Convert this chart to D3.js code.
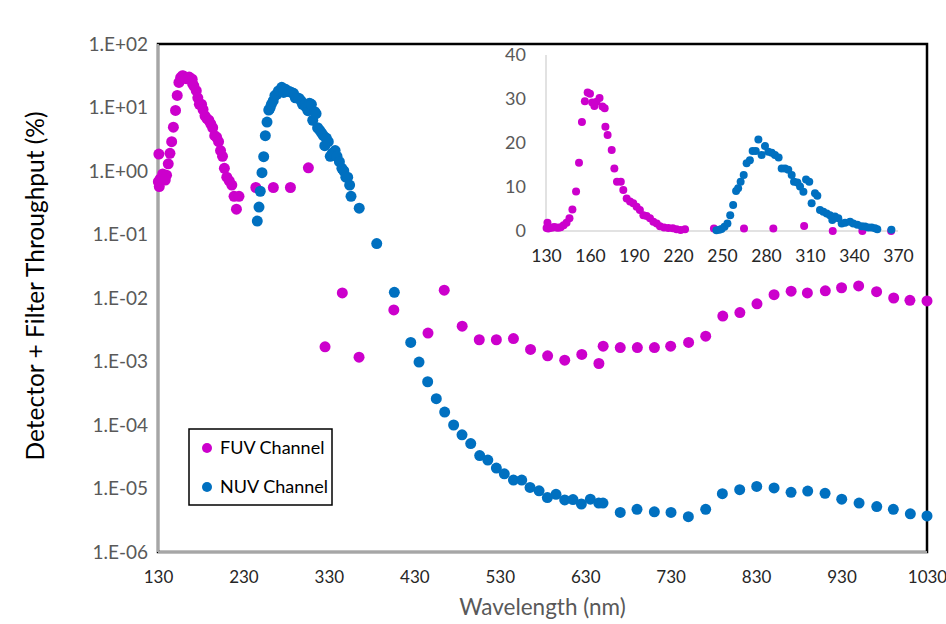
<!DOCTYPE html>
<html>
<head>
<meta charset="utf-8">
<script src="https://cdn.jsdelivr.net/npm/d3@7"></script>
<style>
  body { margin: 0; background: #fff; }
  text { font-family: Lato, "Liberation Sans", sans-serif; }
</style>
</head>
<body>
<div id="chart"></div>
<script>
// FUV channel: wavelength (nm), throughput (%)
var fuvWave = [130.4, 131, 131.5, 132.5, 134, 135.5, 137, 138.5, 140, 142, 144, 146, 148, 150.5, 152.5, 154.5,
  156.5, 158.4, 160, 161.5, 163, 164.5, 166.5, 168.5, 170, 170.5, 172, 174.8, 176.6, 178.4, 181, 182.7, 185,
  187.3, 189.5, 191.8, 194, 196.4, 198.6, 200.9, 203.2, 205.5, 207.7, 210.5, 213.4, 216.4, 219, 221.8, 224.8,
  244.5, 265, 285, 306, 325.5, 345.7, 365.3, 406, 446, 465, 486, 506, 526, 546, 566, 586, 606, 626, 646, 651,
  671, 691, 711, 730, 751, 771, 791, 811, 831, 851, 871, 890, 911, 930, 950, 971, 991, 1010, 1030];
var fuvValue = [0.68, 1.85, 0.57, 0.75, 0.72, 0.9, 0.8, 0.72, 0.86, 1.3, 1.9, 2.9, 4.9, 9.0, 15.5, 24.8,
  29.5, 31.5, 31.2, 29.2, 28.4, 29.4, 30.2, 28.3, 27.9, 23.7, 21.8, 18.4, 14.2, 11.2, 11.2, 9.3, 7.4,
  6.7, 6.3, 5.5, 4.8, 3.6, 3.4, 2.9, 2.1, 1.7, 1.1, 0.8, 0.7, 0.6, 0.4, 0.25, 0.4,
  0.55, 0.55, 0.55, 1.12, 0.0017, 0.012, 0.00117, 0.0065, 0.0028, 0.0133, 0.0036, 0.0022, 0.0022, 0.0023,
  0.00155, 0.00123, 0.00105, 0.00129, 0.00093, 0.00174, 0.00166, 0.00166, 0.00166, 0.00174, 0.002, 0.0025,
  0.0052, 0.0059, 0.0081, 0.0113, 0.0128, 0.012, 0.013, 0.0145, 0.0155, 0.0126, 0.0100, 0.0092, 0.0090];

// NUV channel: wavelength (nm), throughput (%)
var nuvWave = [246.2, 248.2, 249.7, 251.7, 253.7, 255.6, 257.6, 259.6, 261, 262.7, 264.8, 266.8, 269, 270.9,
  273, 274.8, 277, 279.3, 281.6, 283.9, 286.1, 288.6, 290.7, 293, 295.2, 297.5, 299.1, 301.4, 303.2, 305.5,
  307.3, 309.5, 311.1, 313.4, 315, 316.8, 319.1, 321.4, 323.6, 325.2, 327, 329.3, 331.6, 333.9, 337.3, 339.5,
  342.3, 345.2, 347.5, 349.8, 352, 354.3, 355.9, 365.5, 386, 406.6, 425.8, 435.5, 445.6, 455.7, 465.5, 476,
  485.8, 496, 506.5, 516, 526, 535.3, 546, 555.7, 565.4, 576, 585.7, 595.8, 606, 615.7, 625.5, 636, 645.8,
  650.8, 671, 690.6, 710.9, 730.4, 750.7, 771, 790.5, 810.8, 830.7, 851, 870.9, 890.4, 910.7, 930.2, 950.5,
  971.2, 990.6, 1010.5, 1030];
var nuvValue = [0.163, 0.27, 0.48, 0.94, 1.68, 3.6, 5.9, 9.1, 9.7, 11.2, 12.7, 15.4, 16.1, 18.2,
  18.2, 20.8, 17.3, 19.3, 18.0, 17.8, 17.3, 16.7, 14.2, 14.2, 13.9, 12.7, 11.2, 11.0, 10.1, 8.9,
  11.7, 11.2, 6.3, 8.6, 8.0, 4.8, 4.4, 4.0, 3.6, 2.5, 3.3, 2.9, 1.7, 1.9, 2.1, 1.7,
  1.4, 1.1, 1.0, 0.8, 0.8, 0.6, 0.4, 0.26, 0.072, 0.0123, 0.0020, 0.00098, 0.00048, 0.00026, 0.00016, 0.0001,
  7.0e-5, 5.1e-5, 3.3e-5, 2.8e-5, 2.1e-5, 1.7e-5, 1.36e-5, 1.36e-5, 1.04e-5, 9.2e-6, 7.2e-6, 8.1e-6,
  6.6e-6, 6.7e-6, 5.7e-6, 6.8e-6, 5.9e-6, 5.9e-6, 4.2e-6, 4.7e-6, 4.3e-6, 4.2e-6, 3.6e-6, 4.7e-6,
  8.3e-6, 9.6e-6, 1.08e-5, 1.02e-5, 8.7e-6, 9.1e-6, 8.4e-6, 6.8e-6, 5.9e-6, 5.2e-6, 4.7e-6, 4.0e-6, 3.7e-6];

var xTicks = [130, 230, 330, 430, 530, 630, 730, 830, 930, 1030];
var yTicks = [1e-6, 1e-5, 1e-4, 1e-3, 1e-2, 1e-1, 1, 10, 100];
var insetXTicks = [130, 160, 190, 220, 250, 280, 310, 340, 370];
var insetYTicks = [0, 10, 20, 30, 40];

var fuvColor = "#cc00cc";
var nuvColor = "#0070c0";

var fuv = fuvWave.map((w, i) => ({ x: w, y: fuvValue[i] }));
var nuv = nuvWave.map((w, i) => ({ x: w, y: nuvValue[i] }));

var W = 946, H = 624;
var pLeft = 158, pRight = 927, pTop = 44, pBottom = 552;
var font = "Lato, 'Liberation Sans', sans-serif";

var svg = d3.select("#chart").append("svg")
  .attr("width", W)
  .attr("height", H);

var x = d3.scaleLinear().domain([130, 1030]).range([pLeft, pRight]);
var y = d3.scaleLog().domain([1e-6, 100]).range([pBottom, pTop]);

// plot area border
svg.append("rect")
  .attr("x", pLeft).attr("y", pTop)
  .attr("width", pRight - pLeft).attr("height", pBottom - pTop)
  .attr("fill", "none")
  .attr("stroke", "#000")
  .attr("stroke-width", 2.5);

// gray axis lines on left and bottom
svg.append("line")
  .attr("x1", pLeft).attr("x2", pLeft).attr("y1", pTop).attr("y2", pBottom)
  .attr("stroke", "#a6a6a6").attr("stroke-width", 2);
svg.append("line")
  .attr("x1", pLeft).attr("x2", pRight).attr("y1", pBottom).attr("y2", pBottom)
  .attr("stroke", "#a6a6a6").attr("stroke-width", 2);

var fmtExp = d => {
  var e = Math.round(Math.log10(d));
  return "1.E" + (e < 0 ? "-" : "+") + String(Math.abs(e)).padStart(2, "0");
};

var xAxis = svg.append("g")
  .attr("transform", `translate(0,${pBottom})`)
  .call(d3.axisBottom(x).tickValues(xTicks).tickFormat(d3.format("d")).tickSize(0).tickPadding(19));
xAxis.select(".domain").remove();
xAxis.selectAll("text")
  .attr("font-size", 17)
  .attr("fill", "#262626")
  .style("font-family", font);

var yAxis = svg.append("g")
  .attr("transform", `translate(${pLeft},0)`)
  .call(d3.axisLeft(y).tickValues(yTicks).tickFormat(fmtExp).tickSize(0).tickPadding(10));
yAxis.select(".domain").remove();
yAxis.selectAll("text")
  .attr("font-size", 19)
  .attr("fill", "#595959")
  .style("font-family", font);

// axis titles
svg.append("text")
  .attr("transform", "translate(44,286) rotate(-90)")
  .attr("text-anchor", "middle")
  .attr("font-size", 24.5)
  .attr("fill", "#000")
  .text("Detector + Filter Throughput (%)");

svg.append("text")
  .attr("x", (pLeft + pRight) / 2)
  .attr("y", 615)
  .attr("text-anchor", "middle")
  .attr("font-size", 22.5)
  .attr("fill", "#595959")
  .text("Wavelength (nm)");

// main markers
svg.append("g").selectAll("circle")
  .data(fuv)
  .enter().append("circle")
  .attr("cx", d => x(d.x))
  .attr("cy", d => y(d.y))
  .attr("r", 5.5)
  .attr("fill", fuvColor);

svg.append("g").selectAll("circle")
  .data(nuv)
  .enter().append("circle")
  .attr("cx", d => x(d.x))
  .attr("cy", d => y(d.y))
  .attr("r", 5.5)
  .attr("fill", nuvColor);

// legend
var legend = svg.append("g");
legend.append("rect")
  .attr("x", 189).attr("y", 429)
  .attr("width", 143).attr("height", 76)
  .attr("fill", "#fff")
  .attr("stroke", "#000")
  .attr("stroke-width", 1.5);
[["FUV Channel", fuvColor, 448], ["NUV Channel", nuvColor, 487]].forEach(function (item) {
  legend.append("circle")
    .attr("cx", 207).attr("cy", item[2])
    .attr("r", 5)
    .attr("fill", item[1]);
  legend.append("text")
    .attr("x", 220).attr("y", item[2])
    .attr("dy", "0.35em")
    .attr("font-size", 18)
    .attr("fill", "#000")
    .text(item[0]);
});

// inset chart (linear scale, 130-370 nm)
var ix = d3.scaleLinear().domain([130, 370]).range([546, 898]);
var iy = d3.scaleLinear().domain([0, 40]).range([231, 55]);
var inset = svg.append("g");

inset.append("line")
  .attr("x1", ix(130)).attr("x2", ix(130)).attr("y1", iy(40)).attr("y2", iy(0))
  .attr("stroke", "#d9d9d9").attr("stroke-width", 1.5);
inset.append("line")
  .attr("x1", ix(130)).attr("x2", ix(370)).attr("y1", iy(0)).attr("y2", iy(0))
  .attr("stroke", "#d9d9d9").attr("stroke-width", 1.5);

var ixAxis = inset.append("g")
  .attr("transform", `translate(0,${iy(0)})`)
  .call(d3.axisBottom(ix).tickValues(insetXTicks).tickSize(0).tickPadding(19));
ixAxis.select(".domain").remove();
ixAxis.selectAll("text")
  .attr("font-size", 17.5)
  .attr("fill", "#262626")
  .style("font-family", font);

var iyAxis = inset.append("g")
  .attr("transform", `translate(${ix(130)},0)`)
  .call(d3.axisLeft(iy).tickValues(insetYTicks).tickSize(0).tickPadding(20));
iyAxis.select(".domain").remove();
iyAxis.selectAll("text")
  .attr("font-size", 18)
  .attr("fill", "#595959")
  .style("font-family", font);

inset.append("g").selectAll("circle")
  .data(fuv.filter(d => d.x <= 370))
  .enter().append("circle")
  .attr("cx", d => ix(d.x))
  .attr("cy", d => iy(d.y))
  .attr("r", 4)
  .attr("fill", fuvColor);

inset.append("g").selectAll("circle")
  .data(nuv.filter(d => d.x <= 370))
  .enter().append("circle")
  .attr("cx", d => ix(d.x))
  .attr("cy", d => iy(d.y))
  .attr("r", 4)
  .attr("fill", nuvColor);
</script>
</body>
</html>
